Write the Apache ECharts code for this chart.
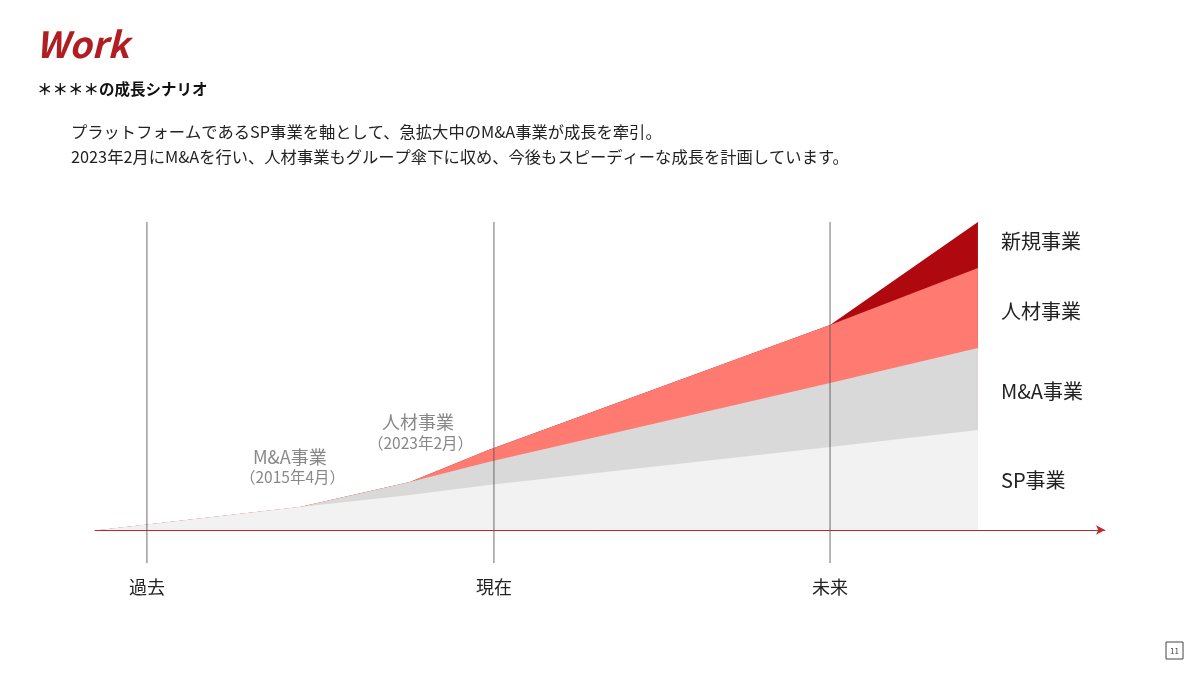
<!DOCTYPE html>
<html><head><meta charset="utf-8">
<script src="https://cdn.jsdelivr.net/npm/echarts@6/dist/echarts.min.js"></script>
<style>html,body{margin:0;padding:0;background:#fff}#c{width:1200px;height:675px}</style>
</head><body><div id="c"></div>
<script>
// x positions: 0 = 過去, 1 = 現在, 2 = 未来
const xs = [-0.138, 0.448, 0.770, 1.0, 2.0, 2.433];
const spValues = [0, 23, 35, 45, 83, 100];
const maValues = [0, 0, 13, 23, 64, 82];
const jinzaiValues = [0, 0, 0, 12, 58, 80];
const newValues = [0, 0, 0, 0, 0, 46];
const seriesNames = ['SP事業', 'M&A事業', '人材事業', '新規事業'];
const timeMarks = [{x: 0, label: '過去'}, {x: 1.016, label: '現在'}, {x: 2.0, label: '未来'}];
const colors = ['#f2f2f2', '#d9d9d9', '#ff7b72', '#b0080f'];
const allValues = [spValues, maValues, jinzaiValues, newValues];

const chart = echarts.init(document.getElementById('c'));
const font = '"Noto Sans CJK JP","Noto Sans",sans-serif';
const Y_MIN = -33, Y_MAX = 308;
const cum = xs.map(() => 0);
const series = allValues.map((vals, i) => {
  vals.forEach((v, j) => cum[j] += v);
  return {
    type: 'line', name: seriesNames[i], symbol: 'none',
    lineStyle: {width: 0}, areaStyle: {color: colors[i], opacity: 1, origin: 0},
    data: xs.map((x, j) => [x, cum[j]]), z: 10 - i
  };
});
timeMarks.forEach(m => series.push({
  type: 'line', symbol: 'none', silent: true, z: 20,
  lineStyle: {color: '#555', width: 1, opacity: 0.85},
  data: [[m.x, Y_MIN], [m.x, Y_MAX]]
}));
const t = (x, y, text, style) => ({type: 'text', left: x, top: y, style: Object.assign({text, font: '16px ' + font, fill: '#222'}, style)});
chart.setOption({
  animation: false,
  grid: {left: 95, right: 95, top: 222, bottom: 112},
  xAxis: {type: 'value', min: -0.152, max: 2.805, splitLine: {show: false},
    axisTick: {show: false}, axisLabel: {show: false}, z: 25,
    axisLine: {onZero: true, lineStyle: {color: '#c0282d', width: 1}, symbol: ['none', 'arrow'], symbolSize: [7, 9]}},
  yAxis: {type: 'value', min: Y_MIN, max: Y_MAX, show: false},
  series,
  graphic: [
    t(36, 26, 'Work', {font: 'italic bold 36px ' + font, fill: '#b01e23'}),
    t(37, 81, '＊＊＊＊の成長シナリオ', {font: 'bold 15.5px ' + font, fill: '#111'}),
    t(71, 124, 'プラットフォームであるSP事業を軸として、急拡大中のM&A事業が成長を牽引。', {font: '16.3px ' + font}),
    t(71, 149, '2023年2月にM&Aを行い、人材事業もグループ傘下に収め、今後もスピーディーな成長を計画しています。', {font: '16.3px ' + font}),
    t(1001, 231, '新規事業', {font: '20px ' + font}),
    t(1001, 301, '人材事業', {font: '20px ' + font}),
    t(1001, 381, 'M&A事業', {font: '20px ' + font}),
    t(1001, 470, 'SP事業', {font: '20px ' + font}),
    t(382, 413, '人材事業', {font: '18px ' + font, fill: '#888'}),
    t(368, 435, '（2023年2月）', {font: '15.5px ' + font, fill: '#888'}),
    t(253, 448, 'M&A事業', {font: '18px ' + font, fill: '#888'}),
    t(240, 469, '（2015年4月）', {font: '15.5px ' + font, fill: '#888'}),
    ...timeMarks.map(m => ({type: 'text', x: 147 + m.x * 341.5, y: 587,
      style: {text: m.label, font: '18px ' + font, fill: '#222', textAlign: 'center', textVerticalAlign: 'middle'}})),
    {type: 'rect', shape: {x: 1166, y: 642, width: 17, height: 17}, style: {fill: 'none', stroke: '#444', lineWidth: 1}},
    {type: 'text', x: 1174.5, y: 651, style: {text: '11', font: '8px ' + font, fill: '#444', textAlign: 'center', textVerticalAlign: 'middle'}}
  ]
});
</script></body></html>
